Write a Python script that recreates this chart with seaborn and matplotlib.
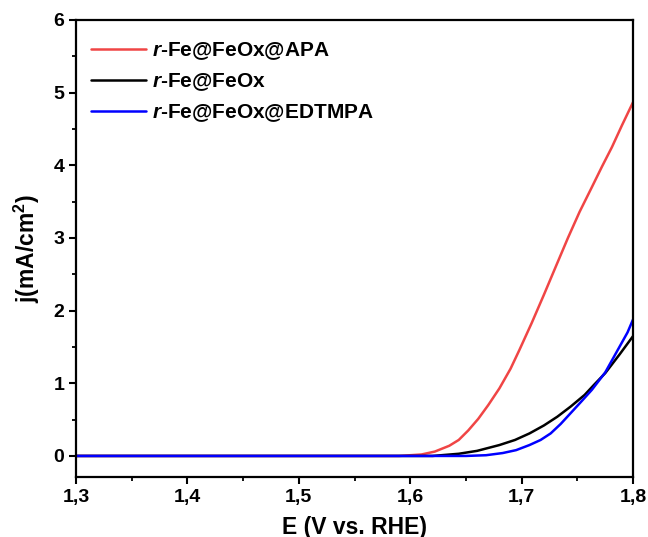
import numpy as np
import pandas as pd
import seaborn as sns
import matplotlib
matplotlib.use("Agg")
import matplotlib.pyplot as plt
from matplotlib.ticker import MultipleLocator, FuncFormatter

# ---- data ----
E_apa = [1.30, 1.59, 1.61, 1.622, 1.635, 1.6435, 1.652, 1.661, 1.670, 1.680, 1.690,
         1.698, 1.709, 1.720, 1.731, 1.7415, 1.752, 1.7627, 1.772, 1.781, 1.790, 1.80]
j_apa = [0.0, 0.0, 0.02, 0.06, 0.14, 0.22, 0.35, 0.51, 0.70, 0.93, 1.20,
         1.46, 1.83, 2.22, 2.62, 3.00, 3.36, 3.69, 3.98, 4.25, 4.55, 4.87]

E_feox = [1.30, 1.62, 1.6435, 1.66, 1.68, 1.694, 1.707, 1.72, 1.732, 1.744,
          1.7565, 1.765, 1.775, 1.788, 1.80]
j_feox = [0.0, 0.0, 0.03, 0.07, 0.15, 0.22, 0.31, 0.42, 0.54, 0.68,
          0.84, 0.98, 1.14, 1.40, 1.65]

E_edt = [1.30, 1.65, 1.668, 1.683, 1.695, 1.707, 1.717, 1.726, 1.735, 1.744,
         1.753, 1.763, 1.775, 1.787, 1.795, 1.80]
j_edt = [0.0, 0.0, 0.01, 0.04, 0.08, 0.15, 0.22, 0.31, 0.44, 0.59,
         0.74, 0.91, 1.15, 1.48, 1.70, 1.88]

labels = [r"$\mathbfit{r}$-Fe@FeOx@APA", r"$\mathbfit{r}$-Fe@FeOx", r"$\mathbfit{r}$-Fe@FeOx@EDTMPA"]
colors = ["#f04545", "#000000", "#0000ff"]

x_ticks = [1.3, 1.4, 1.5, 1.6, 1.7, 1.8]
y_ticks = [0, 1, 2, 3, 4, 5, 6]

df = pd.concat([
    pd.DataFrame({"E": E_apa, "j": j_apa, "s": labels[0]}),
    pd.DataFrame({"E": E_feox, "j": j_feox, "s": labels[1]}),
    pd.DataFrame({"E": E_edt, "j": j_edt, "s": labels[2]}),
], ignore_index=True)

sns.set_theme(style="ticks")
plt.rcParams["font.family"] = ["Liberation Sans", "DejaVu Sans"]
plt.rcParams["font.weight"] = "bold"
plt.rcParams["text.color"] = "black"
plt.rcParams["axes.labelcolor"] = "black"
plt.rcParams["mathtext.fontset"] = "custom"
plt.rcParams["mathtext.rm"] = "Liberation Sans:bold"
plt.rcParams["mathtext.it"] = "Liberation Sans:italic:bold"
plt.rcParams["mathtext.bf"] = "Liberation Sans:bold"
plt.rcParams["mathtext.bfit"] = "Liberation Sans:italic:bold"

fig = plt.figure(figsize=(6.48, 5.37), dpi=100)
ax = fig.add_axes([0.1173, 0.1117, 0.8597, 0.8511])

sns.lineplot(data=df, x="E", y="j", hue="s", palette=colors, hue_order=labels,
             sort=False, estimator=None, linewidth=1.8, ax=ax)

ax.set_xlim(1.3, 1.8)
ax.set_ylim(-0.29, 6)
ax.set_xticks(x_ticks)
ax.set_yticks(y_ticks)
ax.xaxis.set_minor_locator(MultipleLocator(0.05))
ax.yaxis.set_minor_locator(MultipleLocator(0.5))
ax.xaxis.set_major_formatter(FuncFormatter(lambda v, p: f"{v:.1f}".replace(".", ",")))
ax.yaxis.set_major_formatter(FuncFormatter(lambda v, p: f"{v:.0f}"))

for sp in ax.spines.values():
    sp.set_visible(True)
    sp.set_linewidth(1.6)
    sp.set_color("black")

ax.tick_params(axis="both", which="major", direction="out", length=5, width=1.5,
               labelsize=14, colors="black", labelcolor="black", top=False, right=False)
ax.tick_params(axis="both", which="minor", direction="out", length=3, width=1.3,
               colors="black", top=False, right=False)
for lab in ax.get_xticklabels() + ax.get_yticklabels():
    lab.set_fontweight("bold")

ax.set_xlabel("E (V vs. RHE)", fontsize=16.5, fontweight="bold", color="black", labelpad=7)
ax.set_ylabel(r"j(mA/cm$^2$)", fontsize=16.5, fontweight="bold", color="black", labelpad=8)

leg = ax.legend(loc="upper left", frameon=False, fontsize=15, handlelength=2.65,
                handletextpad=0.3, labelspacing=0.45, borderaxespad=0.0,
                bbox_to_anchor=(0.012, 0.974))
for t in leg.get_texts():
    t.set_fontweight("bold")
    t.set_color("black")

fig.savefig("out.png", dpi=100)
